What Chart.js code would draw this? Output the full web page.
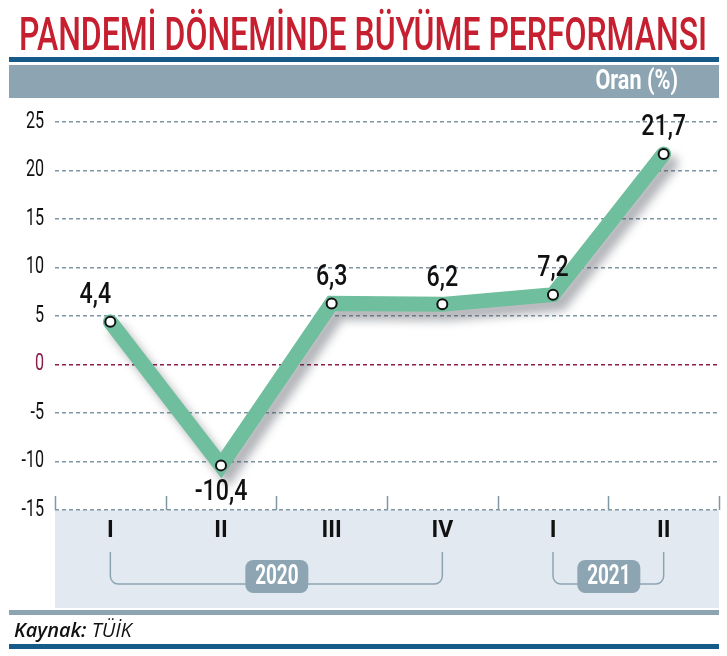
<!DOCTYPE html>
<html>
<head>
<meta charset="utf-8">
<script src="https://cdn.jsdelivr.net/npm/chart.js@4.4.1/dist/chart.umd.min.js"></script>
<style>
  html, body { margin: 0; padding: 0; background: #fff; }
  canvas { display: block; }
</style>
</head>
<body>
<canvas id="grafik" width="727" height="656"></canvas>
<script>
// veriler
const ceyrekler = ['I', 'II', 'III', 'IV', 'I', 'II']
const buyume = [4.4, -10.4, 6.3, 6.2, 7.2, 21.7]
const yillar = ['2020', '2021']
const yilAraliklari = [[0, 3], [4, 5]]
const eksenDegerleri = [-15, -10, -5, 0, 5, 10, 15, 20, 25]

const baslik = 'PANDEMİ DÖNEMİNDE BÜYÜME PERFORMANSI'
const birim = 'Oran (%)'

const MAVI = '#165a8a'
const GRI = '#8da4b3'

// dar yazi (yatayda sikistirilmis)
function yaziDar(ctx, metin, x, y, font, renk, oran, hiza) {
  ctx.save()
  ctx.font = font
  ctx.fillStyle = renk
  ctx.textBaseline = 'middle'
  ctx.textAlign = 'left'
  const w = ctx.measureText(metin).width * oran
  let x0 = x
  if (hiza === 'right') x0 = x - w
  if (hiza === 'center') x0 = x - w / 2
  ctx.translate(x0, y)
  ctx.scale(oran, 1)
  ctx.fillText(metin, 0, 0)
  ctx.restore()
}

function yuvarlakKutu(ctx, x, y, w, h, r) {
  ctx.beginPath()
  ctx.moveTo(x + r, y)
  ctx.arcTo(x + w, y, x + w, y + h, r)
  ctx.arcTo(x + w, y + h, x, y + h, r)
  ctx.arcTo(x, y + h, x, y, r)
  ctx.arcTo(x, y, x + w, y, r)
  ctx.closePath()
}

const cerceve = {
  id: 'cerceve',
  beforeDraw(chart) {
    const ctx = chart.ctx
    const a = chart.chartArea
    ctx.save()
    // baslik
    ctx.font = '500 47px Roboto'
    const tw = ctx.measureText(baslik).width
    ctx.fillStyle = '#c51f30'
    ctx.textBaseline = 'alphabetic'
    ctx.translate(19, 50)
    ctx.scale(688 / tw, 1)
    ctx.fillText(baslik, 0, 0)
    ctx.restore()

    ctx.save()
    ctx.fillStyle = MAVI
    ctx.fillRect(9, 57, 710, 5)
    ctx.fillStyle = GRI
    ctx.fillRect(9, 65, 710, 33)
    ctx.restore()
    yaziDar(ctx, birim, 678, 82, 'bold 27px Roboto', '#fff', 0.8, 'right')

    // alt bolum
    ctx.save()
    ctx.fillStyle = '#e2e9f0'
    ctx.fillRect(a.left, a.bottom, a.right - a.left, 98)
    ctx.fillStyle = GRI
    ctx.fillRect(9, 610, 710, 5)
    ctx.fillStyle = MAVI
    ctx.fillRect(9, 644, 710, 5)
    ctx.fillStyle = '#111'
    ctx.textBaseline = 'alphabetic'
    ctx.font = 'italic 600 20px "Open Sans"'
    ctx.fillText('Kaynak:', 14, 637)
    const kw = ctx.measureText('Kaynak: ').width
    ctx.font = 'italic 20px "Open Sans"'
    ctx.fillText('TÜİK', 14 + kw, 637)
    ctx.restore()
  },
  afterDraw(chart) {
    const ctx = chart.ctx
    const a = chart.chartArea
    const x = chart.scales.x
    const y = chart.scales.y

    // y ekseni yazilari
    eksenDegerleri.forEach(v => {
      const py = y.getPixelForValue(v)
      yaziDar(ctx, String(v), 44, py, '23px Roboto', v === 0 ? '#8b1d4b' : '#111', 0.7, 'right')
    })

    // kategori sinirlari
    ctx.save()
    ctx.strokeStyle = '#7f96a3'
    ctx.lineWidth = 1.5
    const adim = (a.right - a.left) / ceyrekler.length
    for (let i = 0; i <= ceyrekler.length; i++) {
      const px = Math.round(a.left + i * adim) + 0.5
      ctx.beginPath()
      ctx.moveTo(px, a.bottom - 14)
      ctx.lineTo(px, a.bottom)
      ctx.stroke()
    }
    ctx.restore()

    // yil parantezleri
    yilAraliklari.forEach((ar, k) => {
      const x1 = x.getPixelForValue(ar[0])
      const x2 = x.getPixelForValue(ar[1])
      const ust = 552, alt = 584, r = 8
      ctx.save()
      ctx.strokeStyle = GRI
      ctx.lineWidth = 1.5
      ctx.beginPath()
      ctx.moveTo(x1, ust)
      ctx.arcTo(x1, alt, x1 + r, alt, r)
      ctx.arcTo(x2, alt, x2, alt - r, r)
      ctx.lineTo(x2, ust)
      ctx.stroke()
      const orta = (x1 + x2) / 2
      ctx.fillStyle = GRI
      yuvarlakKutu(ctx, orta - 31, 560, 63, 33, 8)
      ctx.fill()
      ctx.restore()
      yaziDar(ctx, yillar[k], orta + 0.5, 577, 'bold 27px Roboto', '#fff', 0.7, 'center')
    })
  },
  beforeDatasetDraw(chart, args) {
    if (args.index === 0) {
      const ctx = chart.ctx
      ctx.save()
      ctx.shadowColor = 'rgba(60, 65, 75, 0.4)'
      ctx.shadowBlur = 10
      ctx.shadowOffsetX = 7
      ctx.shadowOffsetY = 9
    }
  },
  afterDatasetDraw(chart, args) {
    if (args.index === 0) chart.ctx.restore()
  },
  afterDatasetsDraw(chart) {
    const ctx = chart.ctx
    const noktalar = chart.getDatasetMeta(1).data
    noktalar.forEach((p, i) => {
      const v = buyume[i]
      const metin = String(v).replace('.', ',')
      const dx = i === 0 ? -15 : 0
      const py = v < 0 ? p.y + 27 : p.y - 26
      yaziDar(ctx, metin, p.x + dx, py, '500 29px Roboto', '#111', 0.8, 'center')
    })
  }
}

const grafik = new Chart(document.getElementById('grafik'), {
  type: 'line',
  data: {
    labels: ceyrekler,
    datasets: [{
      data: buyume,
      order: 1,
      borderColor: '#6fbe9d',
      borderWidth: 15,
      borderJoinStyle: 'miter',
      borderCapStyle: 'round',
      pointRadius: 0,
      tension: 0,
      clip: false
    }, {
      data: buyume,
      order: 0,
      showLine: false,
      pointRadius: 5,
      pointBackgroundColor: '#fff',
      pointBorderColor: '#111',
      pointBorderWidth: 2,
      clip: false
    }]
  },
  options: {
    responsive: false,
    animation: false,
    events: [],
    layout: { padding: { top: 122, right: 8, left: 0, bottom: 0 } },
    plugins: { legend: { display: false }, tooltip: { enabled: false } },
    scales: {
      x: {
        offset: true,
        grid: { display: false, drawTicks: false },
        border: { display: false },
        ticks: {
          padding: 7,
          color: '#111',
          font: { family: 'Roboto', weight: 'bold', size: 23 },
          autoSkip: false,
          maxRotation: 0
        },
        afterFit(s) { s.height = 146 }
      },
      y: {
        min: -15,
        max: 25,
        ticks: { stepSize: 5, display: false },
        grid: {
          drawTicks: false,
          lineWidth: 1.5,
          color: c => (c.tick && c.tick.value === 0) ? '#8b1d4b' : '#7f96a3'
        },
        border: { display: false, dash: [4, 3] },
        afterFit(s) { s.width = 55 }
      }
    }
  },
  plugins: [cerceve]
})
</script>
</body>
</html>
